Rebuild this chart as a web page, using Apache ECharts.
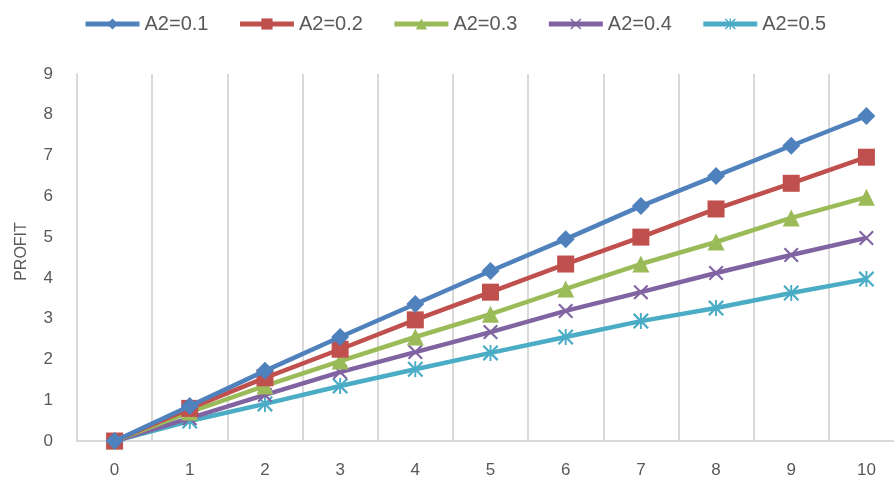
<!DOCTYPE html>
<html>
<head>
<meta charset="utf-8">
<script src="https://cdn.jsdelivr.net/npm/echarts@6/dist/echarts.min.js"></script>
<style>
  html, body { margin: 0; padding: 0; background: #fff; }
  #chart { width: 894px; height: 477px; }
</style>
</head>
<body>
<div id="chart"></div>
<script>
// Profit curves for several A2 settings
const categories = ['0', '1', '2', '3', '4', '5', '6', '7', '8', '9', '10'];
const seriesNames = ['A2=0.1', 'A2=0.2', 'A2=0.3', 'A2=0.4', 'A2=0.5'];
const profitA01 = [0, 0.86, 1.72, 2.55, 3.36, 4.17, 4.95, 5.76, 6.5, 7.24, 7.97];
const profitA02 = [0, 0.80, 1.55, 2.25, 2.97, 3.65, 4.34, 5.0, 5.69, 6.32, 6.96];
const profitA03 = [0, 0.71, 1.35, 1.96, 2.55, 3.11, 3.73, 4.34, 4.88, 5.47, 5.98];
const profitA04 = [0, 0.56, 1.13, 1.69, 2.18, 2.67, 3.19, 3.65, 4.12, 4.56, 4.98];
const profitA05 = [0, 0.49, 0.91, 1.35, 1.76, 2.16, 2.55, 2.94, 3.26, 3.63, 3.97];
const yTicks = [0, 1, 2, 3, 4, 5, 6, 7, 8, 9];

const colors = ['#4F81BD', '#C0504D', '#9BBB59', '#8064A2', '#4BACC6'];
const xMark = 'path://M0,1 L1,0 L10,9 L9,10 Z M9,0 L10,1 L1,10 L0,9 Z';
const starMark = 'path://M0,1 L1,0 L10,9 L9,10 Z M9,0 L10,1 L1,10 L0,9 Z M4.4,0 L5.6,0 L5.6,10 L4.4,10 Z';
const symbols = ['diamond', 'rect', 'triangle', xMark, starMark];
const symbolSizes = [18, 17, 17, 15, 16];
const values = [profitA01, profitA02, profitA03, profitA04, profitA05];

const font = "'Liberation Sans', Arial, sans-serif";

const chart = echarts.init(document.getElementById('chart'), null, { renderer: 'canvas' });
chart.setOption({
  animation: false,
  backgroundColor: '#ffffff',
  color: colors,
  legend: {
    top: 14,
    left: 83,
    padding: 0,
    itemWidth: 54,
    itemHeight: 14,
    itemGap: 29,
    lineStyle: { width: 5 },
    textStyle: { color: '#595959', fontSize: 20, fontFamily: font },
    data: seriesNames
  },
  // the plot runs a little past the right edge of the canvas
  grid: { left: 77, width: 827, top: 74, bottom: 36, outerBoundsMode: 'none', containLabel: false },
  xAxis: {
    type: 'category',
    data: categories,
    boundaryGap: true,
    axisLine: { lineStyle: { color: '#D9D9D9', width: 2 } },
    axisTick: { show: false },
    axisLabel: { color: '#595959', fontSize: 17, fontFamily: font, margin: 21 },
    splitLine: { show: true, lineStyle: { color: '#D9D9D9', width: 2 } }
  },
  yAxis: {
    type: 'value',
    min: yTicks[0],
    max: yTicks[yTicks.length - 1],
    interval: 1,
    name: 'PROFIT',
    nameLocation: 'middle',
    nameGap: 47,
    nameRotate: 90,
    nameTextStyle: { color: '#595959', fontSize: 16, fontFamily: font, padding: [0, 0, 0, 12] },
    axisLine: { show: true, lineStyle: { color: '#D9D9D9', width: 2 } },
    axisTick: { show: false },
    axisLabel: { color: '#595959', fontSize: 17, fontFamily: font, margin: 24 },
    splitLine: { show: false }
  },
  series: seriesNames.map((name, i) => ({
    name: name,
    type: 'line',
    data: values[i],
    symbol: symbols[i],
    symbolSize: symbolSizes[i],
    showAllSymbol: true,
    lineStyle: { width: 4.5, color: colors[i] },
    itemStyle: { color: colors[i] },
    z: 10 - i
  }))
});
</script>
</body>
</html>
